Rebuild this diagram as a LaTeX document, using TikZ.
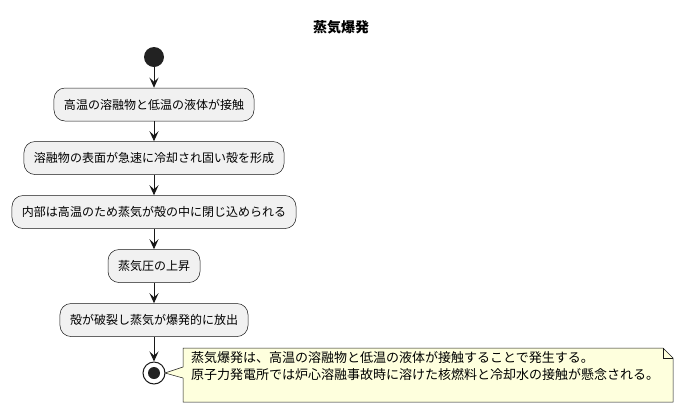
\documentclass[tikz,border=0pt]{standalone}
\usepackage{fontspec}
\setmainfont{Noto Sans CJK JP}
\usetikzlibrary{arrows.meta}
\definecolor{actfill}{HTML}{F1F1F1}
\definecolor{lineclr}{HTML}{181818}
\definecolor{notefill}{HTML}{FEFFDD}
\definecolor{dotclr}{HTML}{222222}
\tikzset{
  actbox/.style={draw=lineclr, line width=0.5bp, fill=actfill, rounded corners=11bp,
    minimum height=33bp, inner xsep=10bp, inner ysep=0pt,
    font=\fontsize{12bp}{14bp}\selectfont},
  flow/.style={draw=lineclr, line width=1bp, -{Stealth[length=10bp,width=9bp,inset=4bp]}},
  startdot/.style={circle, fill=dotclr, minimum size=20bp, inner sep=0pt},
  endring/.style={circle, draw=lineclr, line width=1bp, fill=white, minimum size=22bp, inner sep=0pt},
  notetxt/.style={align=left, inner sep=0pt, font=\fontsize{13bp}{17.5bp}\selectfont},
  noteshape/.style={draw=lineclr, line width=0.5bp, fill=notefill},
}
\begin{document}
\begin{tikzpicture}[x=1bp,y=-1bp]
\useasboundingbox[fill=white] (0,0) rectangle (684,413);
\node[font=\fontsize{14bp}{16bp}\selectfont\bfseries] (title) at (341,27) {蒸気爆発};
\node[startdot] (start) at (154,57) {};
\node[actbox] (a1) at (154,104.5) {高温の溶融物と低温の液体が接触};
\node[actbox] (a2) at (154,158) {溶融物の表面が急速に冷却され固い殻を形成};
\node[actbox] (a3) at (154,212) {内部は高温のため蒸気が殻の中に閉じ込められる};
\node[actbox] (a4) at (154,266) {蒸気圧の上昇};
\node[actbox] (a5) at (154,320) {殻が破裂し蒸気が爆発的に放出};
\node[endring] (end) at (154,373) {};
\fill[dotclr] (end.center) circle (6bp);
\draw[flow] (start) -- (a1);
\draw[flow] (a1) -- (a2);
\draw[flow] (a2) -- (a3);
\draw[flow] (a3) -- (a4);
\draw[flow] (a4) -- (a5);
\draw[flow] (a5) -- (end);
\coordinate (ntl) at (183,348);
\coordinate (nfold) at (663,348);
\coordinate (nfold2) at (673,358);
\coordinate (nbr) at (673,402);
\coordinate (nbl) at (183,402);
\coordinate (ptr) at (165,373);
\draw[noteshape] (ntl) -- (nfold) -- (nfold2) -- (nbr) -- (nbl) -- (183,378) -- (ptr) -- (183,367) -- cycle;
\draw[lineclr, line width=0.5bp] (nfold) -- (663,358) -- (nfold2);
\node[notetxt, anchor=north west] (note) at (191,351) {蒸気爆発は、高温の溶融物と低温の液体が接触することで発生する。\\原子力発電所では炉心溶融事故時に溶けた核燃料と冷却水の接触が懸念される。};
\end{tikzpicture}
\end{document}
